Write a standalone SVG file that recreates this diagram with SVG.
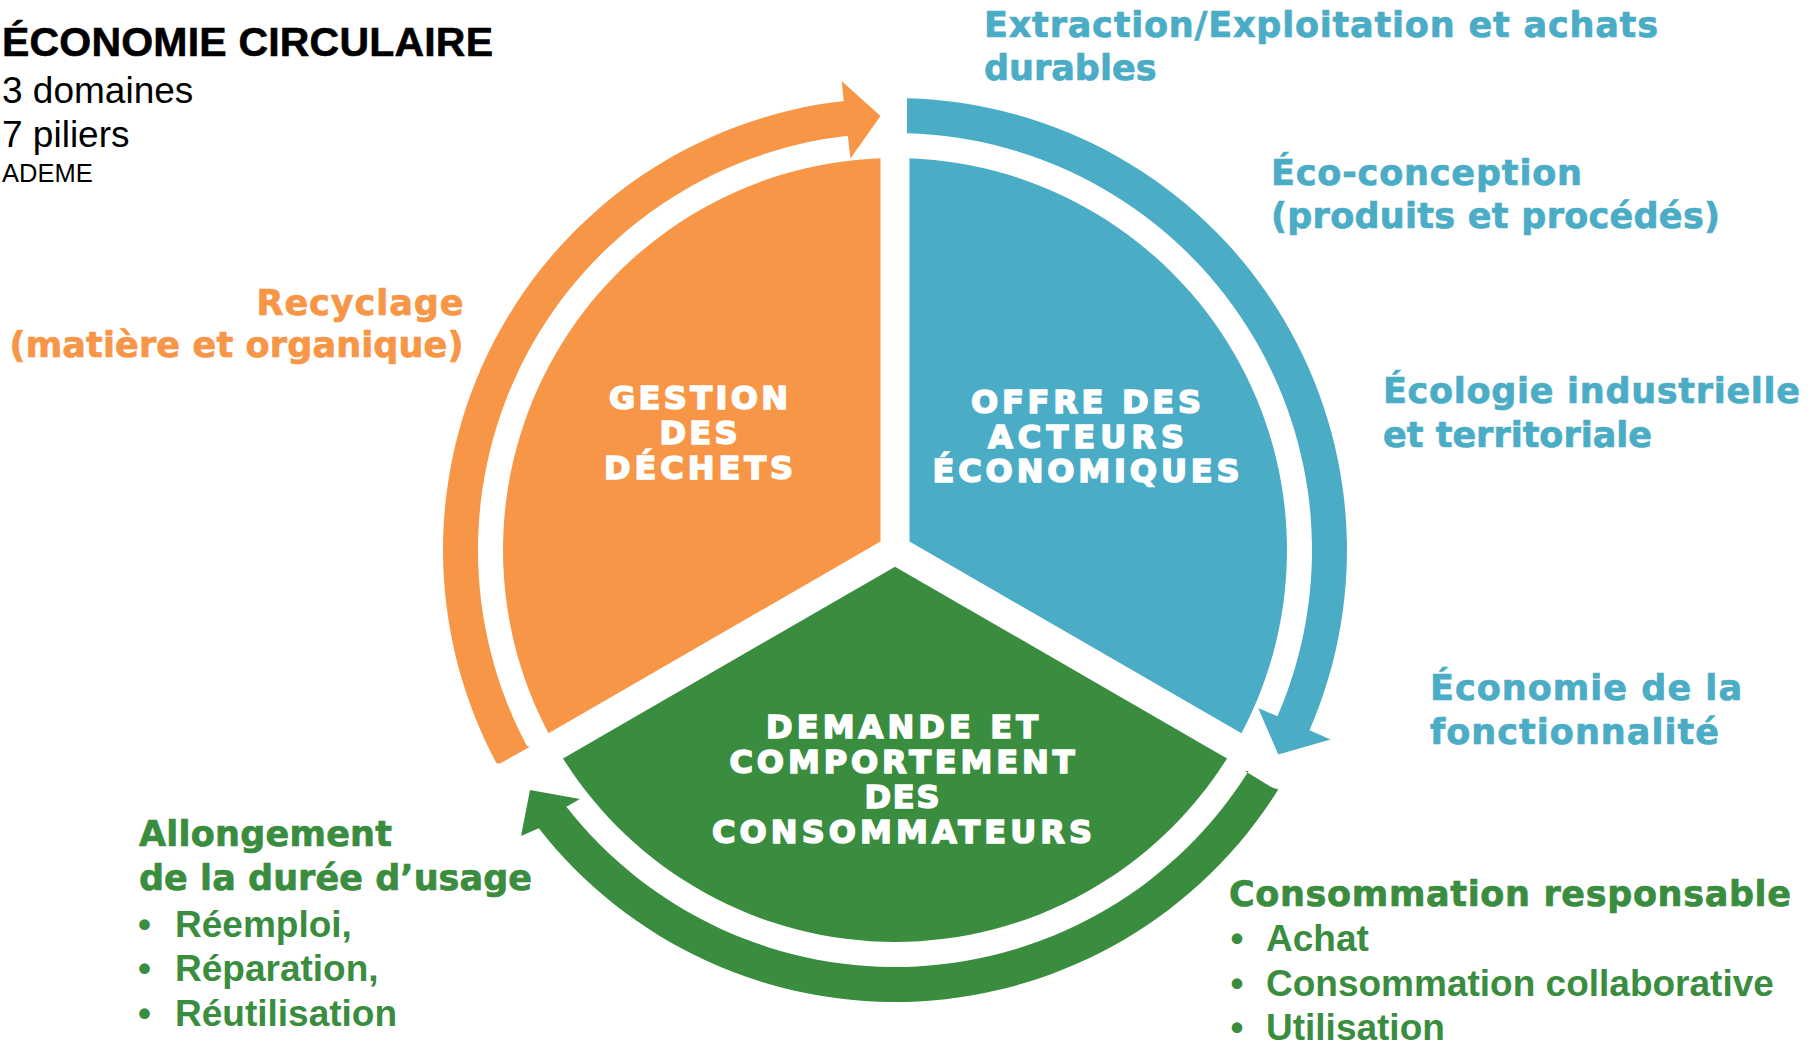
<svg xmlns="http://www.w3.org/2000/svg" width="1818" height="1044" viewBox="0 0 1818 1044">
<style>
.hd{font-family:"Liberation Sans",Arial,sans-serif;fill:#000}
.lbl{font-family:"DejaVu Sans",sans-serif;font-weight:bold;font-size:35px;stroke-width:0.7}
.bul{font-family:"Liberation Sans",Arial,sans-serif;font-weight:bold;font-size:37px}
.sec{font-family:"DejaVu Sans",sans-serif;font-weight:bold;font-size:32px;fill:#fff;stroke:#fff;stroke-width:1.6;text-anchor:middle}
.cb{fill:#4BACC6}.co{fill:#F79646}.cg{fill:#3A8D3F}
.lbl.cb{stroke:#4BACC6}.lbl.co{stroke:#F79646}.lbl.cg{stroke:#3A8D3F}
</style>
<rect width="1818" height="1044" fill="#fff"/>
<g id="header">
<text class="hd" x="2" y="56" font-size="41" font-weight="bold" stroke="#000" stroke-width="0.6" textLength="491" lengthAdjust="spacing">ÉCONOMIE CIRCULAIRE</text>
<text class="hd" x="2" y="103" font-size="37">3 domaines</text>
<text class="hd" x="2" y="147" font-size="37">7 piliers</text>
<text class="hd" x="2" y="182" font-size="25.5">ADEME</text>
</g>
<g id="connectors">
<path class="co" d="M 500 763.5 L 496.5 763.3 A 452 452 0 0 1 843.8 100.9 L 841.6 81 L 880.5 116 L 850.4 158.5 L 847.8 135.7 A 417 417 0 0 0 526.8 745.8 L 529.5 747 Z"/>
<path class="cb" d="M 907 98.2 A 452 452 0 0 1 1309.5 730.2 L 1330.6 739.4 L 1278.3 754.6 L 1258.2 707.9 L 1277.4 716.3 A 417 417 0 0 0 907 133.2 Z"/>
<path class="cg" d="M 1272 787.5 L 1278.3 789.5 A 452 452 0 0 1 538.8 828.3 L 521 836 L 530 790 L 580 799 L 566.4 806.7 A 417 417 0 0 0 1248.6 771 L 1245 771 Z"/>
</g>
<g id="gestion">
<path class="co" d="M 880.5 541.6 L 880.5 158.3 A 392 392 0 0 0 548.5 733.3 Z"/>
<text class="sec" x="698.5" y="409" textLength="179" lengthAdjust="spacing">GESTION</text>
<text class="sec" x="698.5" y="444" textLength="78" lengthAdjust="spacing">DES</text>
<text class="sec" x="698.5" y="479" textLength="189" lengthAdjust="spacing">DÉCHETS</text>
</g>
<g id="offre">
<path class="cb" d="M 909.5 541.6 L 909.5 158.3 A 392 392 0 0 1 1241.5 733.3 Z"/>
<text class="sec" x="1086" y="413" textLength="230" lengthAdjust="spacing">OFFRE DES</text>
<text class="sec" x="1086" y="447.5" textLength="196" lengthAdjust="spacing">ACTEURS</text>
<text class="sec" x="1086" y="482" textLength="307" lengthAdjust="spacing">ÉCONOMIQUES</text>
</g>
<g id="demande">
<path class="cg" d="M 895 566.7 L 563 758.4 A 392 392 0 0 0 1227 758.4 Z"/>
<text class="sec" x="902" y="738" textLength="272" lengthAdjust="spacing">DEMANDE ET</text>
<text class="sec" x="902" y="773" textLength="345" lengthAdjust="spacing">COMPORTEMENT</text>
<text class="sec" x="902" y="808" textLength="75" lengthAdjust="spacing">DES</text>
<text class="sec" x="902" y="843" textLength="380" lengthAdjust="spacing">CONSOMMATEURS</text>
</g>
<g id="pilier-extraction">
<text class="lbl cb" x="984" y="37" textLength="674" lengthAdjust="spacing">Extraction/Exploitation et achats</text>
<text class="lbl cb" x="984" y="80">durables</text>
</g>
<g id="pilier-ecoconception">
<text class="lbl cb" x="1271" y="185" textLength="311" lengthAdjust="spacing">Éco-conception</text>
<text class="lbl cb" x="1271" y="228" textLength="449" lengthAdjust="spacing">(produits et procédés)</text>
</g>
<g id="pilier-ecologie">
<text class="lbl cb" x="1383" y="403" textLength="417" lengthAdjust="spacing">Écologie industrielle</text>
<text class="lbl cb" x="1383" y="447">et territoriale</text>
</g>
<g id="pilier-fonctionnalite">
<text class="lbl cb" x="1430" y="700" textLength="312" lengthAdjust="spacing">Économie de la</text>
<text class="lbl cb" x="1430" y="744" textLength="289" lengthAdjust="spacing">fonctionnalité</text>
</g>
<g id="pilier-recyclage">
<text class="lbl co" x="463.5" y="315" text-anchor="end" textLength="207" lengthAdjust="spacing">Recyclage</text>
<text class="lbl co" x="463.5" y="357" text-anchor="end" textLength="454" lengthAdjust="spacing">(matière et organique)</text>
</g>
<g id="pilier-allongement">
<text class="lbl cg" x="139" y="846" textLength="253" lengthAdjust="spacing">Allongement</text>
<text class="lbl cg" x="139" y="890" textLength="393" lengthAdjust="spacing">de la durée d’usage</text>
<text class="bul cg" x="144.5" y="937" text-anchor="middle">•</text>
<text class="bul cg" x="175" y="937">Réemploi,</text>
<text class="bul cg" x="144.5" y="981" text-anchor="middle">•</text>
<text class="bul cg" x="175" y="981">Réparation,</text>
<text class="bul cg" x="144.5" y="1026" text-anchor="middle">•</text>
<text class="bul cg" x="175" y="1026">Réutilisation</text>
</g>
<g id="pilier-consommation">
<text class="lbl cg" x="1229" y="906" textLength="562" lengthAdjust="spacing">Consommation responsable</text>
<text class="bul cg" x="1237" y="951" text-anchor="middle">•</text>
<text class="bul cg" x="1266" y="951">Achat</text>
<text class="bul cg" x="1237" y="996" text-anchor="middle">•</text>
<text class="bul cg" x="1266" y="996">Consommation collaborative</text>
<text class="bul cg" x="1237" y="1040" text-anchor="middle">•</text>
<text class="bul cg" x="1266" y="1040">Utilisation</text>
</g>
</svg>
